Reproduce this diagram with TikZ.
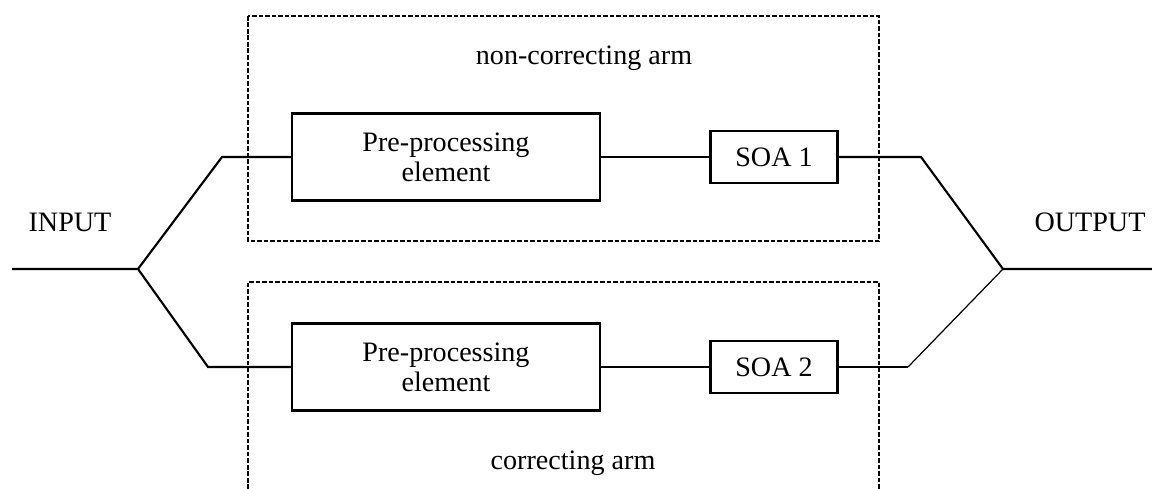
\documentclass[tikz,border=0pt]{standalone}
\usepackage{fontspec}
\setmainfont{Liberation Serif}
\usetikzlibrary{calc}

\tikzset{
  block/.style={draw, line width=1.4pt, inner sep=0pt, align=center,
    font=\fontsize{16pt}{17pt}\selectfont},
  armbox/.style={line width=1.1pt, dash pattern=on 2.6pt off 1.1pt},
  wire/.style={line width=1.2pt},
  lbl/.style={anchor=base, font=\fontsize{16pt}{17pt}\selectfont}
}

\begin{document}
\begin{tikzpicture}[x=0.02cm, y=-0.02cm]
        \useasboundingbox (0,0) rectangle (1152,489);

        % the two arms
        \draw[armbox] (248,16) rectangle (879,241);
        \draw[armbox] (248,489) -- (248,282) -- (879,282) -- (879,489);

        \node[block, minimum width=6.16cm, minimum height=1.74cm] (pre1) at (446,157) {Pre-processing\\element};
        \node[block, minimum width=2.54cm, minimum height=1.04cm] (soa1) at (774,157) {SOA 1};
        \node[block, minimum width=6.16cm, minimum height=1.74cm] (pre2) at (446,367) {Pre-processing\\element};
        \node[block, minimum width=2.54cm, minimum height=1.04cm] (soa2) at (774,367) {SOA 2};

        \coordinate (in) at (12,269);
        \coordinate (split) at (138,269);
        \coordinate (up) at (222,157);
        \coordinate (low) at (208,367);
        \coordinate (upR) at (921,157);
        \coordinate (lowR) at (908,367);
        \coordinate (join) at (1003,269);
        \coordinate (out) at (1152,269);

        \draw[wire] (in) -- (split) -- (up) -- (pre1);
        \draw[wire] (split) -- (low) -- (pre2);
        \draw[wire] (pre1) -- (soa1);
        \draw[wire] (pre2) -- (soa2);
        \draw[wire] (soa1) -- (upR) -- (join) -- (out);
        \draw[wire] (soa2) -- (lowR);
        \draw[line width=0.7pt] (lowR) -- (join);

        \node[lbl] (inlbl) at (70,232) {INPUT};
        \node[lbl] (outlbl) at (1090,232) {OUTPUT};
        \node[lbl] (ncarm) at (584,65) {non-correcting arm};
        \node[lbl] (carm) at (573,469) {correcting arm};
      \end{tikzpicture}
\end{document}
